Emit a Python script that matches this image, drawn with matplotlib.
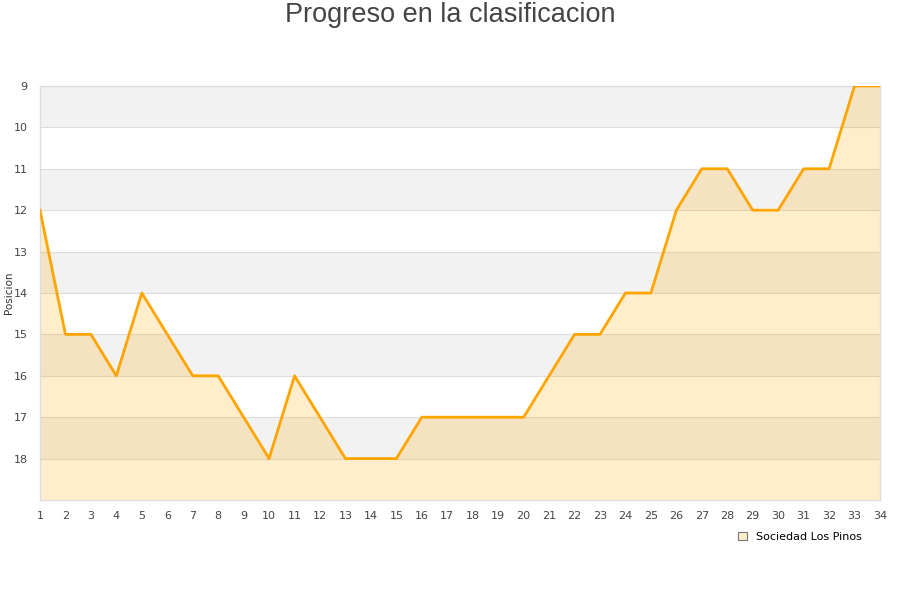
import matplotlib
matplotlib.use("Agg")
import matplotlib.pyplot as plt
from matplotlib.patches import Patch

jornadas = list(range(1, 35))
posiciones = [12, 15, 15, 16, 14, 15, 16, 16, 17, 18, 16, 17, 18, 18, 18, 17, 17, 17, 17, 17,
              16, 15, 15, 14, 14, 12, 11, 11, 12, 12, 11, 11, 9, 9]
team = "Sociedad Los Pinos"
y_ticks = list(range(9, 19))

fig = plt.figure(figsize=(9, 6), dpi=100)
ax = fig.add_axes([40/900, 1-500/600, 840/900, 414/600])

# alternating bands
for lo in range(9, 19):
    if (lo - 9) % 2 == 0:
        ax.axhspan(lo, lo+1, color="#f2f2f2", zorder=0, lw=0)
for y in range(9, 19):
    ax.axhline(y, color="#dddddd", lw=0.8, zorder=1)

ax.fill_between(jornadas, posiciones, 19, color="#FFA500", alpha=0.2, lw=0, zorder=2)
ax.plot(jornadas, posiciones, color="#FFA500", lw=2.0, zorder=3)

ax.set_xlim(1, 34)
ax.set_ylim(19, 9)
ax.set_xticks(jornadas)
ax.set_yticks(y_ticks)
ax.tick_params(length=0, labelsize=8, labelcolor="#444444", pad=8)
ax.tick_params(axis="y", pad=9)
for s in ax.spines.values():
    s.set_color("#dddddd")
    s.set_linewidth(1)

fig.text(9/900, 1-293/600, "Posicion", rotation=90, ha="center", va="center",
         fontsize=7.5, color="#333333")
fig.text(0.5, 1-15/600, "Progreso en la clasificacion", ha="center", va="center",
         fontsize=19.5, color="#444444", family="Liberation Sans")

handle = Patch(facecolor="#FFEDCC", edgecolor="#777777", lw=0.8)
fig.legend([handle], [team], loc="center", bbox_to_anchor=(800/900, 1-537/600),
           frameon=False, fontsize=8, handlelength=0.8, handleheight=0.8, handletextpad=0.8)

fig.savefig("out.png", dpi=100)
